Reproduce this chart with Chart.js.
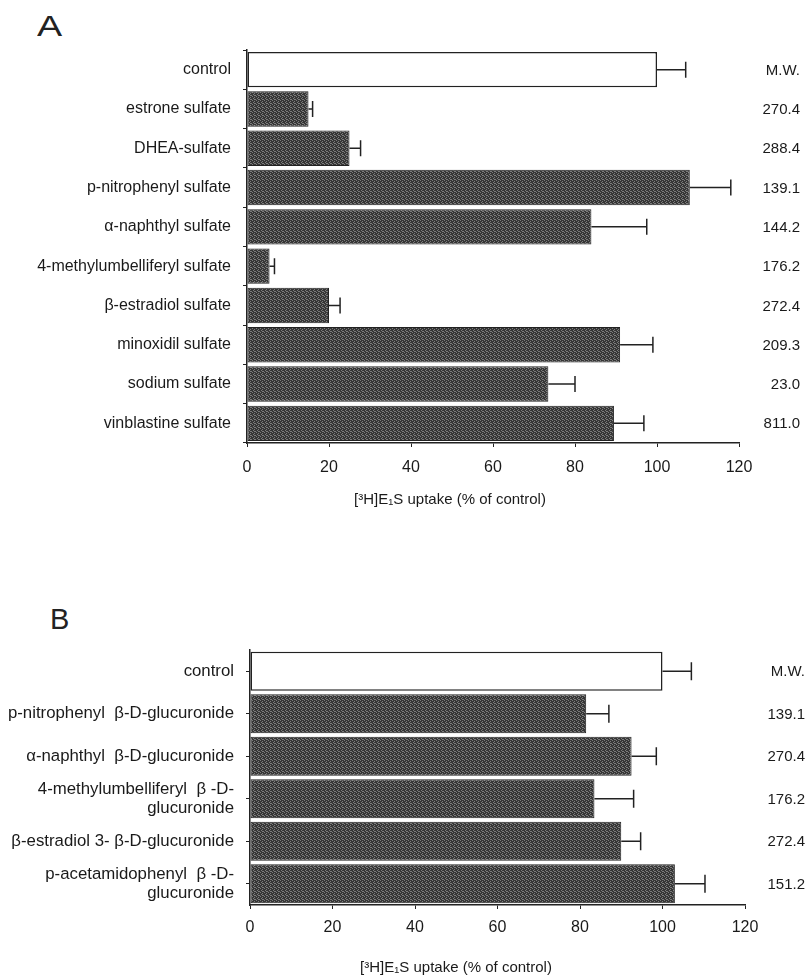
<!DOCTYPE html>
<html>
<head>
<meta charset="utf-8">
<title>[3H]E1S uptake inhibition</title>
<script src="https://cdn.jsdelivr.net/npm/chart.js@4.4.1/dist/chart.umd.min.js"></script>
<style>
    html, body { margin: 0; padding: 0; background: #fff; }
    #page { position: relative; width: 809px; height: 978px; overflow: hidden; }
    #page canvas { position: absolute; left: 0; }
    .panel-letter {
        position: absolute;
        font-family: "Liberation Sans", Arial, sans-serif;
        font-size: 29px;
        line-height: 1;
        color: #222;
    }
</style>
</head>
<body>
<div id="page">
    <div class="panel-letter" id="letterA" style="left:37px; top:12px; transform:scaleX(1.3); transform-origin:left;">A</div>
    <div class="panel-letter" id="letterB" style="left:50px; top:605px;">B</div>
    <canvas id="chartA" width="809" height="530" style="top:0px"></canvas>
    <canvas id="chartB" width="809" height="438" style="top:540px"></canvas>
</div>

<script>
// Panel A - sulfate conjugates
const categoriesA = [
    'control',
    'estrone sulfate',
    'DHEA-sulfate',
    'p-nitrophenyl sulfate',
    'α-naphthyl sulfate',
    '4-methylumbelliferyl sulfate',
    'β-estradiol sulfate',
    'minoxidil sulfate',
    'sodium sulfate',
    'vinblastine sulfate'
];
const uptakeA = [100, 15, 25, 108, 84, 5.5, 20, 91, 73.5, 89.5];
const errorA = [7, 1, 2.7, 10, 13.5, 1.2, 2.7, 8, 6.5, 7.3];
const mwA = ['M.W.', '270.4', '288.4', '139.1', '144.2', '176.2', '272.4', '209.3', '23.0', '811.0'];

// Panel B - glucuronide conjugates
const categoriesB = [
    'control',
    'p-nitrophenyl  β-D-glucuronide',
    'α-naphthyl  β-D-glucuronide',
    ['4-methylumbelliferyl  β -D-', 'glucuronide'],
    'β-estradiol 3- β-D-glucuronide',
    ['p-acetamidophenyl  β -D-', 'glucuronide']
];
const uptakeB = [100, 81.5, 92.5, 83.5, 90, 103];
const errorB = [7, 5.5, 6, 9.5, 4.7, 7.3];
const mwB = ['M.W.', '139.1', '270.4', '176.2', '272.4', '151.2'];

// x axis ticks (same for both panels)
const xTicks = [0, 20, 40, 60, 80, 100, 120];
const axisTitle = '[³H]E₁S uptake (% of control)';

const FONT = '"Liberation Sans", Arial, sans-serif';
const INK = '#1a1a1a';

/**
 * Stippled dark fill like the scanned halftone bars
 */
function makeStipple() {
    const c = document.createElement('canvas');
    c.width = 4;
    c.height = 4;
    const g = c.getContext('2d');
    g.fillStyle = '#363636';
    g.fillRect(0, 0, 4, 4);
    g.fillStyle = '#7c7c7c';
    [[0, 0], [2, 1], [1, 2], [3, 3], [2, 3]].forEach(([x, y]) => g.fillRect(x, y, 1, 1));
    return g.createPattern(c, 'repeat');
}

/**
 * Error bars, M.W. column and axis title
 */
const extrasPlugin = {
    id: 'extras',
    afterDatasetsDraw(chart, args, opts) {
        const { ctx, scales: { x, y } } = chart;
        ctx.save();

        // error bars (one-sided, to the right)
        ctx.strokeStyle = '#222';
        ctx.lineWidth = 1.5;
        opts.values.forEach((v, i) => {
            const yc = y.getPixelForValue(i);
            const x0 = x.getPixelForValue(v);
            const x1 = x.getPixelForValue(v + opts.errors[i]);
            ctx.beginPath();
            ctx.moveTo(x0, yc);
            ctx.lineTo(x1, yc);
            ctx.moveTo(x1, yc - opts.cap);
            ctx.lineTo(x1, yc + opts.cap);
            ctx.stroke();
        });

        // molecular weight column
        ctx.fillStyle = INK;
        ctx.font = '15px ' + FONT;
        ctx.textAlign = 'right';
        ctx.textBaseline = 'middle';
        opts.mw.forEach((t, i) => {
            ctx.fillText(t, opts.mwX, y.getPixelForValue(i) + 1);
        });

        // x axis title
        ctx.font = '15px ' + FONT;
        ctx.textAlign = 'center';
        ctx.fillText(axisTitle, opts.titleX, opts.titleY);

        ctx.restore();
    }
};

/**
 * Build one horizontal bar panel
 */
function buildPanel(canvasId, categories, values, errors, mw, layout) {
    const stipple = makeStipple();
    const colors = values.map((v, i) => (i === 0 ? '#ffffff' : stipple));

    return new Chart(document.getElementById(canvasId), {
        type: 'bar',
        data: {
            labels: categories,
            datasets: [{
                data: values,
                backgroundColor: colors,
                borderColor: '#222',
                borderWidth: values.map((v, i) => (i === 0 ? 1.5 : 1)),
                borderSkipped: false,
                categoryPercentage: 1,
                barPercentage: layout.barPct
            }]
        },
        options: {
            indexAxis: 'y',
            responsive: false,
            animation: false,
            layout: {
                padding: { top: layout.top, right: layout.right, left: 0, bottom: 0 }
            },
            scales: {
                x: {
                    min: xTicks[0],
                    max: xTicks[xTicks.length - 1],
                    afterBuildTicks: (scale) => {
                        scale.ticks = xTicks.map(v => ({ value: v }));
                    },
                    afterFit: (scale) => { scale.height = layout.xHeight; },
                    grid: { drawOnChartArea: false, tickLength: 4, color: '#222' },
                    border: { color: '#222', width: 1.5 },
                    ticks: {
                        color: INK,
                        padding: layout.xPad,
                        font: { family: FONT, size: 16 }
                    }
                },
                y: {
                    afterFit: (scale) => { scale.width = layout.yWidth; },
                    grid: { drawOnChartArea: false, tickLength: 4, color: '#222', offset: layout.gridOffset },
                    border: { color: '#222', width: 1.5 },
                    ticks: {
                        color: INK,
                        padding: layout.yPad,
                        font: { family: FONT, size: layout.yFont, lineHeight: 1.1 }
                    }
                }
            },
            plugins: {
                legend: { display: false },
                tooltip: { enabled: false },
                extras: {
                    values: values,
                    errors: errors,
                    mw: mw,
                    cap: layout.cap,
                    mwX: layout.mwX,
                    titleX: layout.titleX,
                    titleY: layout.titleY
                }
            }
        },
        plugins: [extrasPlugin]
    });
}

buildPanel('chartA', categoriesA, uptakeA, errorA, mwA, {
    top: 50, right: 70, yWidth: 247, xHeight: 87, yFont: 16,
    xPad: 11, yPad: 12, barPct: 0.9, gridOffset: true,
    cap: 8, mwX: 800, titleX: 450, titleY: 500
});

buildPanel('chartB', categoriesB, uptakeB, errorB, mwB, {
    top: 110, right: 64, yWidth: 250, xHeight: 73, yFont: 16.8,
    xPad: 9, yPad: 12, barPct: 0.92, gridOffset: false,
    cap: 9, mwX: 805, titleX: 456, titleY: 428
});
</script>
</body>
</html>
